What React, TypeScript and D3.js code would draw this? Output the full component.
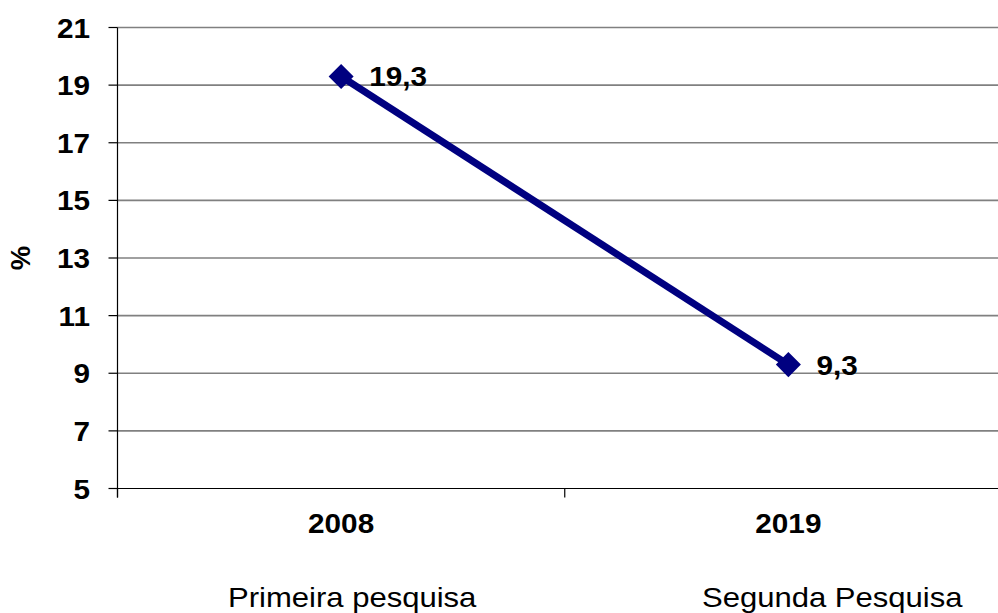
import React from "react";
import * as d3 from "d3";

const categories = ["2008", "2019"];
const values = [19.3, 9.3];
const valueLabels = ["19,3", "9,3"];
const subtitles = ["Primeira pesquisa", "Segunda Pesquisa"];
const yTicks = [5, 7, 9, 11, 13, 15, 17, 19, 21];

const W = 998;
const H = 613;
const left = 117.5;
const right = 1012;
const top = 27.5;
const bottom = 488.5;
const FONT = "Arial, 'Liberation Sans', sans-serif";

export default function App() {
  const x = d3.scaleBand<string>().domain(categories).range([left, right]);
  const y = d3.scaleLinear().domain([5, 21]).range([bottom, top]);
  const px = (c: string) => (x(c) as number) + x.bandwidth() / 2;

  const line = d3
    .line<number>()
    .x((_, i) => px(categories[i]))
    .y((v) => y(v));

  const diamond = d3.symbol().type(d3.symbolDiamond2).size(400)();

  const xTickPositions = [left, ...categories.map((c) => (x(c) as number) + x.bandwidth())];

  return (
    <div style={{ position: "absolute", left: 0, top: 0 }}>
      <svg width={W} height={H} style={{ display: "block", background: "#fff" }}>
        {yTicks.map((t) => (
          <line
            key={"g" + t}
            x1={left}
            x2={right}
            y1={y(t)}
            y2={y(t)}
            stroke={t === 5 ? "#000" : "#808080"}
            strokeWidth={t === 5 ? 1.2 : 1.6}
          />
        ))}
        <line x1={left} x2={left} y1={top} y2={bottom + 9} stroke="#000" strokeWidth={1.2} />
        {yTicks.map((t) => (
          <g key={"t" + t}>
            <line x1={left - 9} x2={left} y1={y(t)} y2={y(t)} stroke="#000" strokeWidth={1.2} />
            <text
              transform={`translate(90,${y(t) + 10}) scale(1.08,1)`}
              textAnchor="end"
              fontFamily={FONT}
              fontWeight="bold"
              fontSize={27.5}
              fill="#000"
            >
              {t}
            </text>
          </g>
        ))}
        {xTickPositions.map((p, i) => (
          <line key={"xt" + i} x1={p} x2={p} y1={bottom} y2={bottom + 9} stroke="#000" strokeWidth={1.2} />
        ))}
        <text
          transform="translate(30,258) rotate(-90)"
          textAnchor="middle"
          fontFamily={FONT}
          fontWeight="bold"
          fontSize={27.5}
          fill="#000"
        >
          %
        </text>
        {categories.map((c) => (
          <text
            key={"c" + c}
            transform={`translate(${px(c)},533) scale(1.08,1)`}
            textAnchor="middle"
            fontFamily={FONT}
            fontWeight="bold"
            fontSize={27.5}
            fill="#000"
          >
            {c}
          </text>
        ))}
        {subtitles.map((s, i) => (
          <text
            key={"s" + i}
            transform={`translate(${i === 0 ? 228 : 702},607) scale(1.15,1)`}
            textAnchor="start"
            fontFamily={FONT}
            fontSize={27}
            fill="#000"
          >
            {s}
          </text>
        ))}
        <path d={line(values) || ""} fill="none" stroke="#000080" strokeWidth={7} />
        {values.map((v, i) => (
          <path
            key={"m" + i}
            d={diamond || ""}
            transform={`translate(${px(categories[i])},${y(v)})`}
            fill="#000080"
          />
        ))}
        {values.map((v, i) => (
          <text
            key={"v" + i}
            transform={`translate(${px(categories[i]) + 28},${y(v) + 10}) scale(1.08,1)`}
            fontFamily={FONT}
            fontWeight="bold"
            fontSize={27.5}
            fill="#000"
          >
            {valueLabels[i]}
          </text>
        ))}
      </svg>
    </div>
  );
}
